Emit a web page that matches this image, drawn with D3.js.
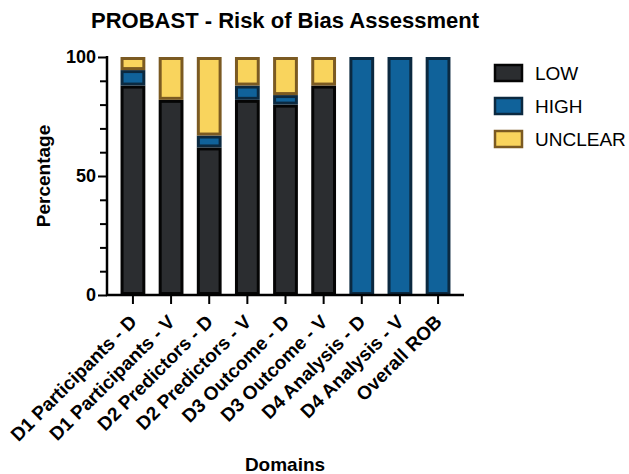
<!DOCTYPE html>
<html><head><meta charset="utf-8">
<script src="https://cdn.jsdelivr.net/npm/d3@7"></script>
<style>body{margin:0;background:#fff}svg{display:block}text{font-family:"Liberation Sans",Arial,sans-serif}</style>
</head><body>
<svg id="c" width="629" height="474"></svg>
<script>
const categories = ["D1 Participants - D","D1 Participants - V","D2 Predictors - D","D2 Predictors - V","D3 Outcome - D","D3 Outcome - V","D4 Analysis - D","D4 Analysis - V","Overall ROB"];
const lowValues     = [88, 82, 62, 82, 80, 88, 0, 0, 0];
const highValues    = [6.5, 0, 5, 6, 4, 0, 100, 100, 100];
const unclearValues = [5.5, 18, 33, 12, 16, 12, 0, 0, 0];
const seriesNames = ["LOW","HIGH","UNCLEAR"];
const yTicks = [0, 50, 100];
const fills   = {LOW:"#2b2d30", HIGH:"#10629a", UNCLEAR:"#f9d45d"};
const strokes = {LOW:"#050505", HIGH:"#0b2940", UNCLEAR:"#7b5a22"};

const svg = d3.select("#c");
const rows = categories.map((c,i)=>({cat:c, LOW:lowValues[i], HIGH:highValues[i], UNCLEAR:unclearValues[i]}));
const stack = d3.stack().keys(seriesNames)(rows);

const x = d3.scaleBand().domain(categories).range([107,464]).paddingInner(0.35).paddingOuter(0.355);
const y = d3.scaleLinear().domain([0,100]).range([295,57]);

// bars
const sw = 3;
svg.append("g").selectAll("g").data(stack).join("g")
  .attr("fill", d=>fills[d.key]).attr("stroke", d=>strokes[d.key]).attr("stroke-width", sw)
  .selectAll("rect").data(d=>d.filter(p=>p[1]-p[0]>0)).join("rect")
  .attr("x", d=>x(d.data.cat)+sw/2)
  .attr("width", x.bandwidth()-sw)
  .attr("y", d=>y(d[1])+sw/2)
  .attr("height", d=>Math.max(0, y(d[0])-y(d[1])-sw));

// y axis
const yAxis = svg.append("g").attr("transform","translate(107,0)")
  .call(d3.axisLeft(y).tickValues(d3.range(0,101,10)).tickSize(7).tickFormat(d=>yTicks.includes(d)?d:""));
yAxis.select(".domain").attr("stroke","#000").attr("stroke-width",2.5).attr("d","M0,295V56");
yAxis.selectAll(".tick line").attr("stroke","#000").attr("stroke-width",2)
  .attr("x2", d=>yTicks.includes(d)?-9:-7);
yAxis.selectAll(".tick text").attr("x",-11).attr("font-size",18).attr("font-weight","bold").attr("fill","#000");

// x axis
const xAxis = svg.append("g").attr("transform","translate(0,295)")
  .call(d3.axisBottom(x).tickSize(9).tickSizeOuter(0));
xAxis.select(".domain").attr("stroke","#000").attr("stroke-width",2.5).attr("d","M106,0H464");
xAxis.selectAll(".tick line").attr("stroke","#000").attr("stroke-width",2);
xAxis.selectAll(".tick text").attr("font-size",19).attr("font-weight","bold").attr("fill","#000")
  .attr("text-anchor","end").attr("dy",0).attr("y",0)
  .attr("transform","translate(5,28) rotate(-45)");

// title & labels
svg.append("text").attr("x",285).attr("y",28).attr("text-anchor","middle")
  .attr("font-size",22).attr("font-weight","bold").text("PROBAST - Risk of Bias Assessment");
svg.append("text").attr("transform","translate(50,176) rotate(-90)").attr("text-anchor","middle")
  .attr("font-size",19).attr("font-weight","bold").text("Percentage");
svg.append("text").attr("x",285).attr("y",471).attr("text-anchor","middle")
  .attr("font-size",19).attr("font-weight","bold").text("Domains");

// legend
const lg = svg.append("g");
const legY = [73, 106, 139];
seriesNames.forEach((k,i)=>{
  lg.append("rect").attr("x",495).attr("y",legY[i]-8).attr("width",27).attr("height",16)
    .attr("fill",fills[k]).attr("stroke",strokes[k]).attr("stroke-width",2.5);
  lg.append("text").attr("x",535).attr("y",legY[i]+7).attr("font-size",19).text(k);
});
</script>
</body></html>
